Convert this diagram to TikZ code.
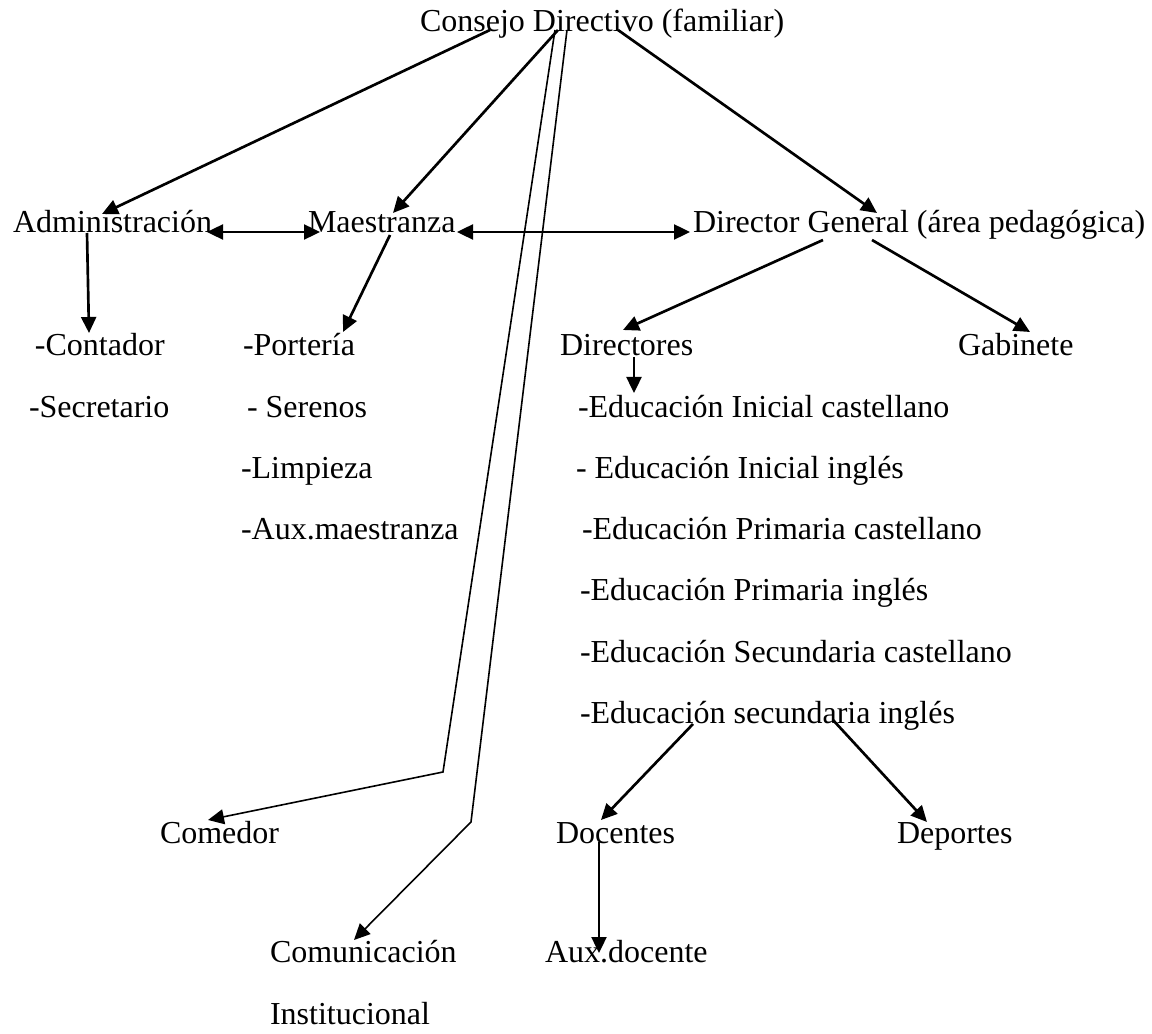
\documentclass[tikz,border=0pt]{standalone}
\usepackage{fontspec}
\setmainfont{Liberation Serif}
\usetikzlibrary{calc, arrows.meta}
\tikzset{
	entry/.style={anchor=base west, inner sep=0pt, outer sep=0pt, font=\fontsize{12pt}{14pt}\selectfont},
	link/.style={line width=1pt},
	% the two long lines from the top
	thinlink/.style={line width=0.6pt},
}

\begin{document}
\begin{tikzpicture}[x=0.375pt, y=-0.375pt]
	\useasboundingbox (0,0) rectangle (1152,1034);
	
	\node (cd) [entry] at (420,32) {Consejo Directivo (familiar)};
	
	\node (adm) [entry] at (13,233) {Administración};
	\node (mae) [entry] at (308,233) {Maestranza};
	\node (dg) [entry] at (693,233) {Director General (área pedagógica)};
	
	\node (cont) [entry] at (35,356) {-Contador};
	\node (sec) [entry] at (29,418) {-Secretario};
	
	\node (port) [entry] at (243,356) {-Portería};
	\node (ser) [entry] at (247,418) {- Serenos};
	\node (lim) [entry] at (241,479) {-Limpieza};
	\node (auxm) [entry] at (241,540) {-Aux.maestranza};
	
	\node (dirs) [entry] at (560,356) {Directores};
	\node (gab) [entry] at (958,356) {Gabinete};
	\node (eic) [entry] at (578,418) {-Educación Inicial castellano};
	\node (eii) [entry] at (576,479) {- Educación Inicial inglés};
	\node (epc) [entry] at (582,540) {-Educación Primaria castellano};
	\node (epi) [entry] at (580,601) {-Educación Primaria inglés};
	\node (esc) [entry] at (580,662) {-Educación Secundaria castellano};
	\node (esi) [entry] at (580,723) {-Educación secundaria inglés};
	
	\node (com) [entry] at (160,843) {Comedor};
	\node (doc) [entry] at (556,843) {Docentes};
	\node (dep) [entry] at (897,843) {Deportes};
	
	\node (comu) [entry] at (270,963) {Comunicación};
	\node (inst) [entry] at (270,1024) {Institucional};
	\node (auxd) [entry] at (545,963) {Aux.docente};
	
	\begin{scope}[black, ->, >={Triangle[length=6pt, width=5.6pt]}]
		
		\draw[link] ($(cd.base west)+(70,-2)$) -- ($(adm.base west)+(89,-19)$);
		\draw[link] ($(cd.base west)+(138,-2)$) -- ($(mae.base west)+(85,-20)$);
		\draw[link] ($(cd.base west)+(198,-2)$) -- ($(dg.base west)+(184,-20)$);
		\draw[thinlink] ($(cd.base west)+(135,-2)$) -- ($(com.base west)+(283,-71)$) -- ($(com.base west)+(48,-23)$);
		\draw[thinlink] ($(cd.base west)+(147,-2)$) -- ($(comu.base west)+(201,-141)$) -- ($(comu.base west)+(84,-23)$);
		
		\draw[link, <->] ($(adm.base west)+(194,-1)$) -- ($(mae.base west)+(12,-1)$);
		\draw[link, <->] ($(mae.base west)+(149,-1)$) -- ($(dg.base west)+(-3,-1)$);
		
		\draw[link] ($(adm.base west)+(74,0)$) -- ($(cont.base west)+(54,-23)$);
		\draw[link] ($(mae.base west)+(82,2)$) -- ($(port.base west)+(100,-24)$);
		\draw[link] ($(dg.base west)+(130,7)$) -- ($(dirs.base west)+(63,-26)$);
		\draw[link] ($(dg.base west)+(179,7)$) -- ($(gab.base west)+(72,-24)$);
		\draw[link] ($(dirs.base west)+(74,1)$) -- ($(eic.base west)+(56,-25)$);
		
		\draw[link] ($(esi.base west)+(113,1)$) -- ($(doc.base west)+(45,-23)$);
		\draw[link] ($(esi.base west)+(253,-3)$) -- ($(dep.base west)+(30,-21)$);
		\draw[link] ($(doc.base west)+(43,-1)$) -- ($(auxd.base west)+(54,-10)$);
		
	\end{scope}
	
\end{tikzpicture}
\end{document}
